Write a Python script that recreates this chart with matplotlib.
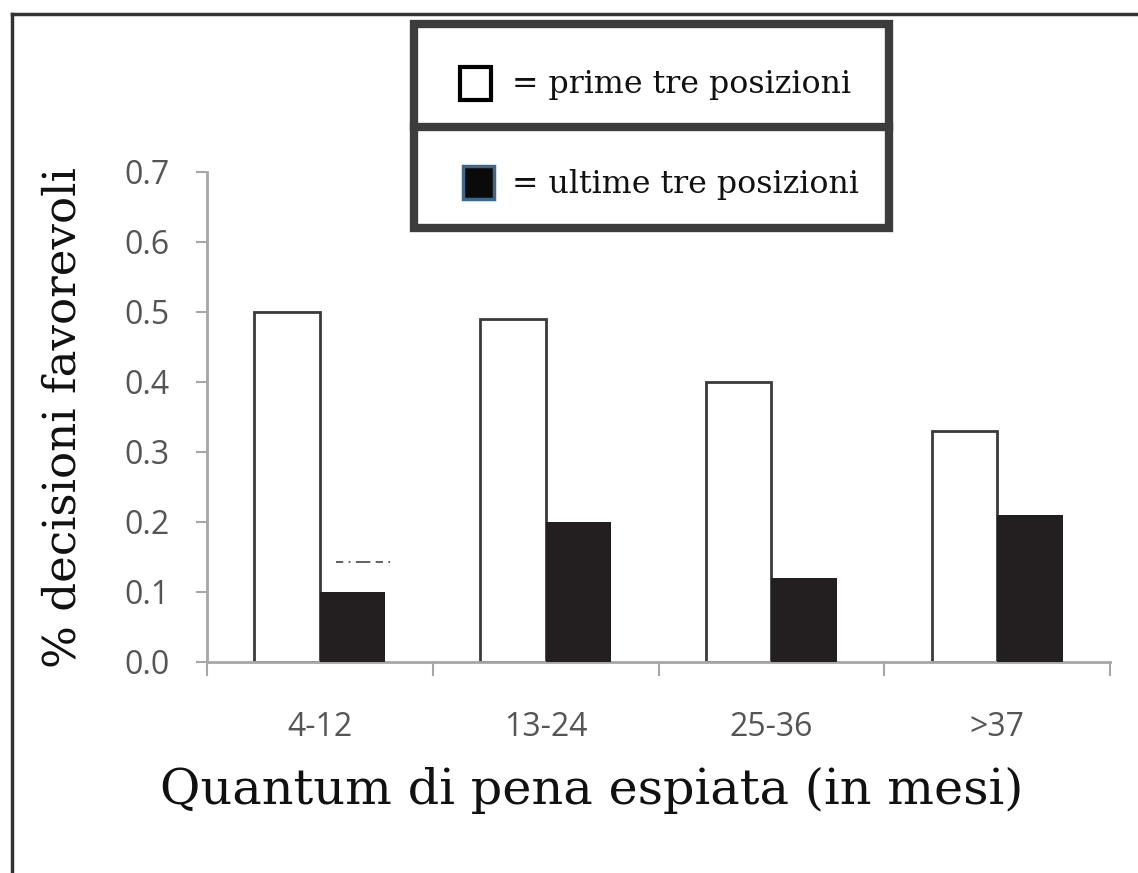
import numpy as np
import matplotlib
matplotlib.use("Agg")
import matplotlib.pyplot as plt
from matplotlib.patches import Rectangle
from matplotlib.lines import Line2D

# data
categories = ['4-12', '13-24', '25-36', '>37']
prime_tre = [0.50, 0.49, 0.40, 0.33]
ultime_tre = [0.10, 0.20, 0.12, 0.21]
yticks = [0.0, 0.1, 0.2, 0.3, 0.4, 0.5, 0.6, 0.7]
legend_labels = ['= prime tre posizioni', '= ultime tre posizioni']

W, H = 1138, 873
fig = plt.figure(figsize=(W / 100, H / 100), dpi=100)
fig.patch.set_facecolor('white')

def fx(px):
    return px / W

def fy(py):
    return 1 - py / H

serif = 'DejaVu Serif'

ax = fig.add_axes([fx(207), fy(662), fx(1110) - fx(207), fy(172) - fy(662)])
x = np.arange(len(categories))
bw = 0.29
ax.bar(x - bw / 2, prime_tre, width=bw, color='white', edgecolor='#3a3a3a', linewidth=2, zorder=2)
ax.bar(x + bw / 2, ultime_tre, width=bw, color='#231f20', edgecolor='#231f20', linewidth=0, zorder=3)

# small dash-dot artefact above the first dark bar
ax.plot([0.07, 0.33], [0.143, 0.143], color='#555555', lw=1.3,
        linestyle=(0, (4, 3, 1, 3, 8, 3)), zorder=1)

ax.set_xlim(-0.5, len(categories) - 0.5)
ax.set_ylim(0, 0.7)
ax.set_yticks(yticks)
ax.set_yticklabels([f'{v:.1f}' for v in yticks])
ax.set_xticks(np.arange(len(categories) + 1) - 0.5)
ax.set_xticklabels([])
ax.set_xticks(x, minor=True)
ax.set_xticklabels(categories, minor=True)

for s in ['top', 'right']:
    ax.spines[s].set_visible(False)
for s in ['left', 'bottom']:
    ax.spines[s].set_color('#a6a6a6')
    ax.spines[s].set_linewidth(2)

ax.tick_params(axis='y', length=8, width=1.5, color='#a6a6a6', labelsize=23,
               labelcolor='#555555', pad=19)
ax.tick_params(axis='x', which='major', length=10, width=1.5, color='#a6a6a6')
ax.tick_params(axis='x', which='minor', length=0, labelsize=23,
               labelcolor='#555555', pad=35)
for lab in ax.get_yticklabels() + ax.get_xticklabels(minor=True):
    lab.set_fontfamily('Open Sans')

# axis titles
fig.text(fx(592), fy(790), 'Quantum di pena espiata (in mesi)', ha='center', va='center',
         fontsize=35.6, family=serif, color='#111111')
fig.text(fx(63), fy(418), '% decisioni favorevoli', ha='center', va='center', rotation=90,
         fontsize=32.5, family=serif, color='#111111')

# figure border (top and left)
fig.add_artist(Line2D([fx(12), 1], [fy(14), fy(14)], color='#333333', lw=2.5))
fig.add_artist(Line2D([fx(12), fx(12)], [fy(14), 0], color='#333333', lw=2.5))

# legend box drawn by hand
box_col = '#3c3c3c'
fig.add_artist(Rectangle((fx(414), fy(228)), fx(889) - fx(414), fy(24) - fy(228),
                         facecolor='white', edgecolor=box_col, linewidth=6))
fig.add_artist(Line2D([fx(414), fx(889)], [fy(127), fy(127)], color=box_col, lw=6))
fig.add_artist(Rectangle((fx(460), fy(100)), fx(491) - fx(460), fy(67) - fy(100),
                         facecolor='white', edgecolor='black', linewidth=3))
fig.add_artist(Rectangle((fx(463), fy(199)), fx(494) - fx(463), fy(166) - fy(199),
                         facecolor='#0a0a0a', edgecolor='#3f6787', linewidth=2.5))
fig.text(fx(512), fy(84), legend_labels[0], ha='left', va='center',
         fontsize=22.8, family=serif, color='#111111')
fig.text(fx(512), fy(185), legend_labels[1], ha='left', va='center',
         fontsize=22.8, family=serif, color='#111111')

fig.savefig('out.png', dpi=100, facecolor='white')
